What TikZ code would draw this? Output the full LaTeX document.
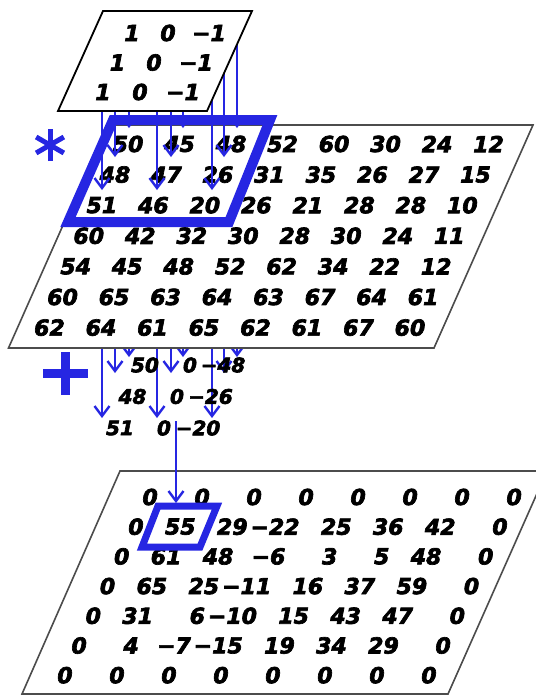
\documentclass[tikz,border=0pt]{standalone}
\usepackage{fontspec}
\newfontfamily\numfont{DejaVu Sans}[BoldItalicFeatures={FakeBold=3}]
\usetikzlibrary{arrows.meta}
\definecolor{convblue}{RGB}{38,38,226}
\tikzset{
  num/.style={font=\numfont\bfseries\itshape\fontsize{22}{24}\selectfont, inner sep=0pt, anchor=east},
  knum/.style={font=\numfont\bfseries\itshape\fontsize{22}{24}\selectfont, inner sep=0pt},
  prodnum/.style={font=\numfont\bfseries\itshape\fontsize{20}{22}\selectfont, inner sep=0pt},
  sheet/.style={draw=black!70, line width=1.6pt, fill=white},
  hilite/.style={draw=convblue, line join=miter},
  tap/.style={convblue, line width=2pt, -{Straight Barb[length=10pt,width=15pt,line width=2.4pt]}},
  opsign/.style={convblue}
}
\begin{document}
\begin{tikzpicture}[x=1pt,y=-1pt]
\useasboundingbox (0,0) rectangle (536,697);

% Parameters
\def\tapcols{102/190/418, 115/157/373, 129/128/357,
             157/190/418, 171/157/373, 183/128/357,
             212/190/418, 224/157/373, 237/128/357}

% Taps below the input sheet (start hidden under it)
\foreach \x/\ym/\yp [count=\i] in \tapcols {
    \coordinate (pin-\i) at (\x,300);
    \coordinate (pout-\i) at (\x,\yp);
    \draw[tap] (pin-\i) -- (pout-\i);
}

% Input sheet
\draw[sheet] (107.5,125) -- (533,125) -- (434,348) -- (8.5,348) -- cycle;
\foreach \row [count=\r from 0] in {{50,45,48,52,60,30,24,12},
                                    {48,47,26,31,35,26,27,15},
                                    {51,46,20,26,21,28,28,10},
                                    {60,42,32,30,28,30,24,11},
                                    {54,45,48,52,62,34,22,12},
                                    {60,65,63,64,63,67,64,61},
                                    {62,64,61,65,62,61,67,60}} {
    \foreach \v [count=\c from 0] in \row {
        \node[num] (m-\r-\c) at ({143.6-13.1*\r+51.5*\c},{144+30.6*\r}) {\v};
    }
}

% Taps from the kernel onto the patch
\foreach \x/\ym/\yp [count=\i] in \tapcols {
    \coordinate (kin-\i) at (\x,28);
    \coordinate (kout-\i) at (\x,\ym);
    \draw[tap] (kin-\i) -- (kout-\i);
}

% Highlighted patch
\draw[hilite, line width=10pt] (113,120) -- (270,120) -- (229,222) -- (68,222) -- cycle;

% Kernel sheet
\draw[draw=black, line width=1.8pt, fill=white] (103,11) -- (252,11) -- (207,111) -- (58,111) -- cycle;
\foreach \r in {0,1,2} {
    \node[knum] (k-\r-0) at ({132-14.5*\r},{33+29.5*\r}) {1};
    \node[knum] (k-\r-1) at ({168-14*\r},{33+29.5*\r}) {0};
    \node[knum] (k-\r-2) at ({209-13*\r},{33+29.5*\r}) {−1};
}

% Operation signs
\foreach \a in {90,30,150} {
    \draw[opsign, line width=5pt] (50,145) ++(\a:16) -- ++(\a+180:32);
}
\draw[opsign, line width=9pt] (43,373) -- (88,373) (65,352) -- (65,395);

% Products
\foreach \a/\b/\cc [count=\r from 0] in {50/0/−48, 48/0/−26, 51/0/−20} {
    \node[prodnum] (p-\r-0) at ({145-12.5*\r},{365+31.5*\r}) {\a};
    \node[prodnum] (p-\r-1) at ({190-13*\r},{365+31.5*\r}) {\b};
    \node[prodnum] (p-\r-2) at ({223-12.5*\r},{365+31.5*\r}) {\cc};
}

% Output sheet
\draw[sheet] (120,471) -- (547,471) -- (448,694) -- (22,694) -- cycle;
\foreach \row [count=\r from 0] in {{0,0,0,0,0,0,0,0},
                                    {0,55,29,−22,25,36,42,0},
                                    {0,61,48,−6,3,5,48,0},
                                    {0,65,25,−11,16,37,59,0},
                                    {0,31,6,−10,15,43,47,0},
                                    {0,4,−7,−15,19,34,29,0},
                                    {0,0,0,0,0,0,0,0}} {
    \foreach \v [count=\c from 0] in \row {
        \node[num] (o-\r-\c) at ({158-14.2*\r+52*\c},{497+29.7*\r}) {\v};
    }
}

% Sum goes into the output cell
\draw[hilite, line width=7pt] (158,506) -- (217,506) -- (200,547) -- (142,547) -- cycle;
\coordinate (sum-in) at (176,421);
\coordinate (sum-out) at (176,503);
\draw[tap] (sum-in) -- (sum-out);
\end{tikzpicture}
\end{document}
